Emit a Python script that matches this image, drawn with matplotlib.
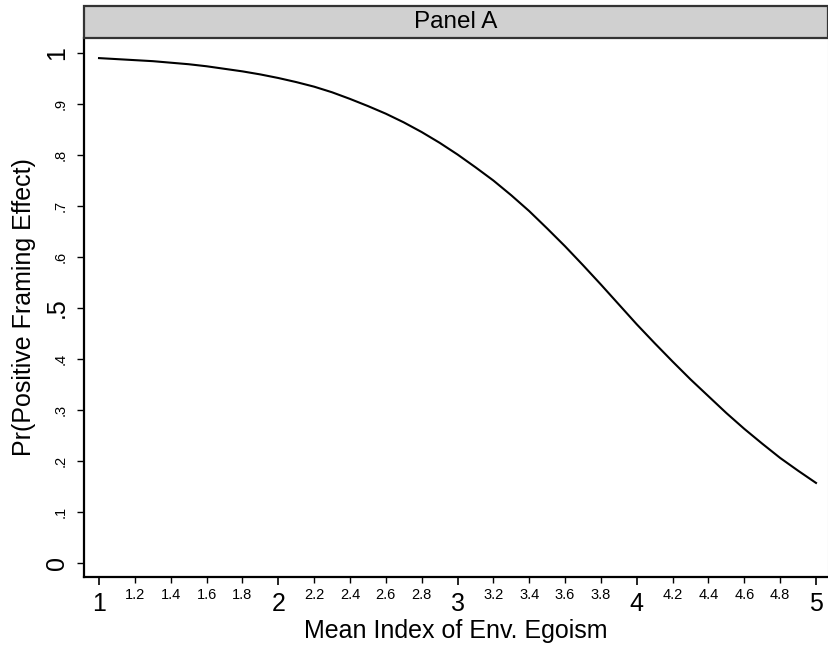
import matplotlib.pyplot as plt
from matplotlib.patches import Rectangle

plt.rcParams['font.family'] = ['Liberation Sans', 'DejaVu Sans']

# predicted probability
egoism = [1.0, 1.1, 1.2, 1.3, 1.4, 1.5, 1.6, 1.7, 1.8, 1.9, 2.0,
          2.1, 2.2, 2.3, 2.4, 2.5, 2.6, 2.7, 2.8, 2.9, 3.0,
          3.1, 3.2, 3.3, 3.4, 3.5, 3.6, 3.7, 3.8, 3.9, 4.0,
          4.1, 4.2, 4.3, 4.4, 4.5, 4.6, 4.7, 4.8, 4.9, 5.0]
prob = [0.990, 0.988, 0.986, 0.984, 0.981, 0.978, 0.974, 0.969, 0.964, 0.958, 0.951,
        0.943, 0.934, 0.923, 0.910, 0.896, 0.881, 0.864, 0.845, 0.824, 0.801,
        0.776, 0.750, 0.721, 0.690, 0.656, 0.621, 0.584, 0.546, 0.507, 0.468,
        0.431, 0.395, 0.360, 0.327, 0.294, 0.263, 0.234, 0.206, 0.181, 0.157]

x_major = [1, 2, 3, 4, 5]
x_minor = [1.2, 1.4, 1.6, 1.8, 2.2, 2.4, 2.6, 2.8, 3.2, 3.4, 3.6, 3.8,
           4.2, 4.4, 4.6, 4.8]
y_major = [0, 0.5, 1]
y_major_labels = ['0', '.5', '1']
y_minor = [0.1, 0.2, 0.3, 0.4, 0.6, 0.7, 0.8, 0.9]
y_minor_labels = ['.1', '.2', '.3', '.4', '.6', '.7', '.8', '.9']

fig = plt.figure(figsize=(8.29, 6.52), dpi=100)
ax = fig.add_axes([0.1013, 0.115, 0.8975, 0.8267])

ax.plot(egoism, prob, color='black', lw=1.5)

ax.set_xlim(0.916, 5.067)
ax.set_ylim(-0.0275, 1.0294)

ax.set_xticks(x_major)
ax.set_xticklabels([str(v) for v in x_major], fontsize=18)
ax.set_xticks(x_minor, minor=True)
ax.set_xticklabels([f'{v:.1f}' for v in x_minor], minor=True, fontsize=10.5)
ax.tick_params(axis='x', which='major', length=6, width=1.2, pad=5)
ax.tick_params(axis='x', which='minor', length=4, width=1.0, pad=4)

ax.set_yticks(y_major)
ax.set_yticklabels(y_major_labels, fontsize=18, rotation=90, va='center')
ax.set_yticks(y_minor, minor=True)
ax.set_yticklabels(y_minor_labels, minor=True, fontsize=10.5, rotation=90, va='center')
ax.tick_params(axis='y', which='major', length=5, width=1.0, pad=6)
ax.tick_params(axis='y', which='minor', length=5, width=1.0, pad=7)

for s in ['left', 'bottom']:
    ax.spines[s].set_linewidth(1.6)
ax.spines['top'].set_visible(False)
ax.spines['right'].set_color('#c8c8c8')
ax.spines['right'].set_linewidth(0.8)

ax.set_xlabel('Mean Index of Env. Egoism', fontsize=18, labelpad=2)
ax.set_ylabel('Pr(Positive Framing Effect)', fontsize=18, labelpad=6)

# panel header strip
hdr = Rectangle((0.1013, 0.9417), 0.8975, 0.0491, transform=fig.transFigure,
                facecolor='#d0d0d0', edgecolor='#333333', lw=1.6)
fig.patches.append(hdr)
fig.text(0.1013 + 0.8975 / 2, 0.9417 + 0.0491 / 2, 'Panel A', fontsize=17.5,
         ha='center', va='center')

fig.savefig('out.png', dpi=100)
